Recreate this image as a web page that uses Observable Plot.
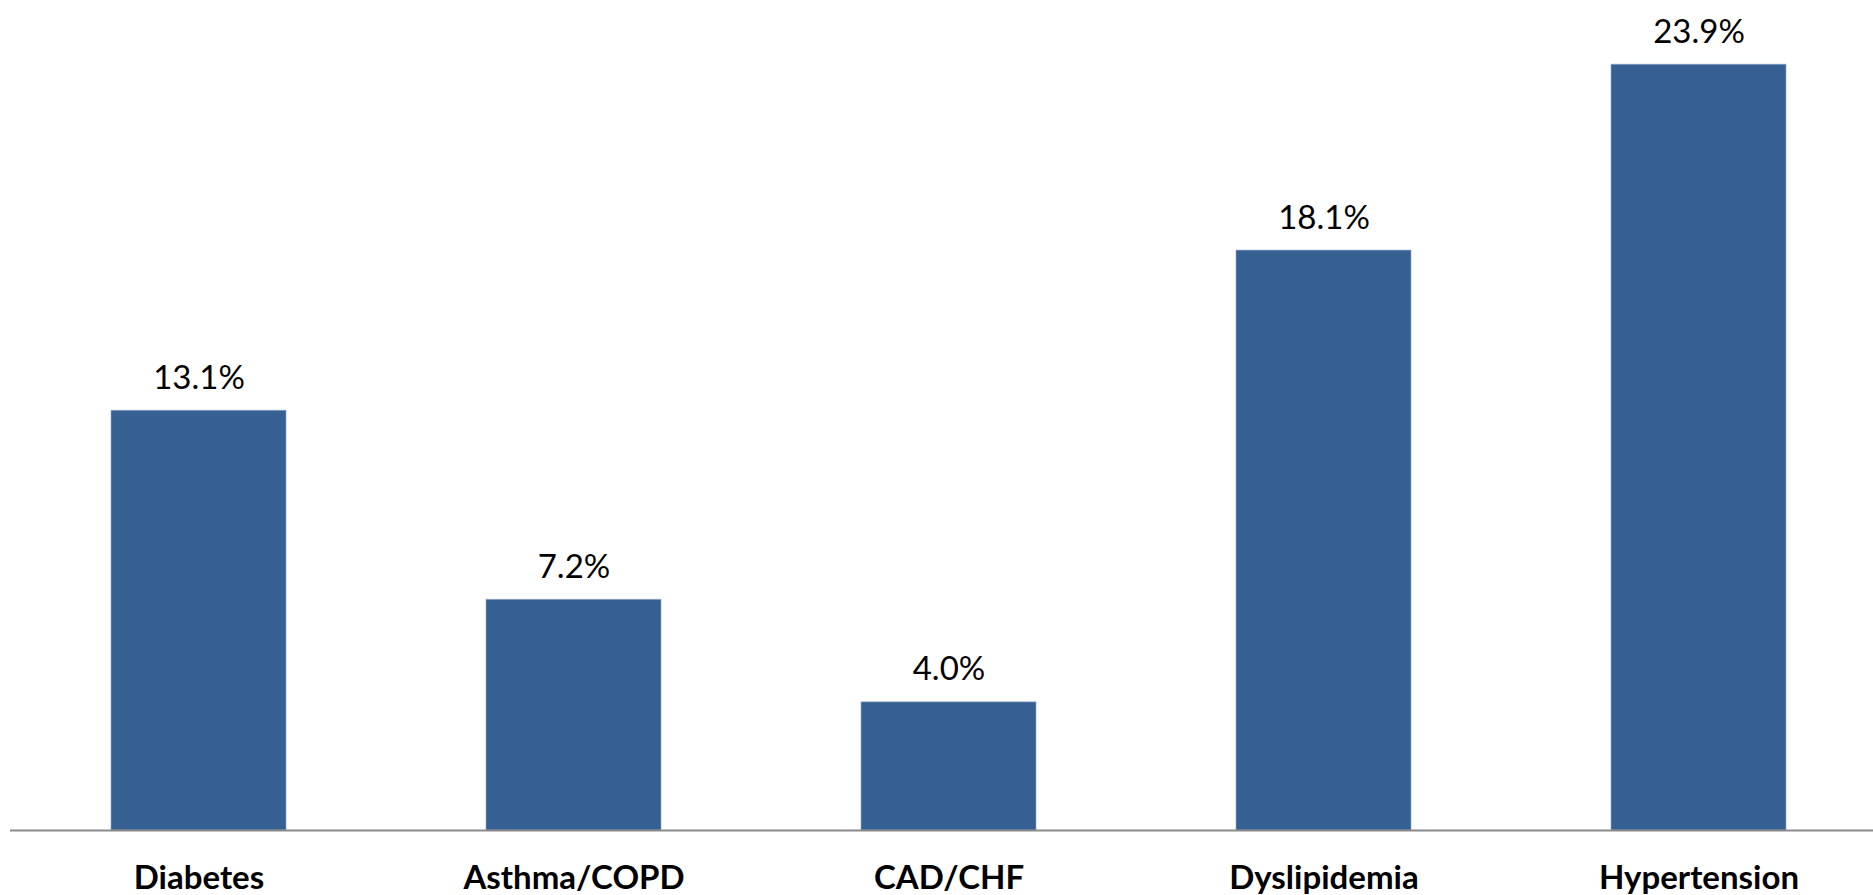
<!DOCTYPE html>
<html>
<head>
<meta charset="utf-8">
<script src="https://cdn.jsdelivr.net/npm/d3@7"></script>
<script src="https://cdn.jsdelivr.net/npm/@observablehq/plot@0.6"></script>
<style>
  html, body { margin: 0; padding: 0; background: #fff; }
  #chart svg { display: block; }
</style>
</head>
<body>
<div id="chart"></div>
<script>
const categories = ["Diabetes", "Asthma/COPD", "CAD/CHF", "Dyslipidemia", "Hypertension"];
const values = [13.1, 7.2, 4.0, 18.1, 23.9];
const valueLabels = ["13.1%", "7.2%", "4.0%", "18.1%", "23.9%"];

const data = categories.map((c, i) => ({category: c, value: values[i], label: valueLabels[i]}));

const W = 1873, H = 895;
const chart = Plot.plot({
  width: W,
  height: H,
  marginLeft: 10,
  marginRight: 0,
  marginTop: 29,
  marginBottom: 65,
  style: {fontFamily: "Lato, 'Liberation Sans', sans-serif", background: "#fff"},
  x: {domain: categories, range: [9.75, 1887.25], paddingInner: 0.534, paddingOuter: 0.267, label: null},
  y: {domain: [0, 25], axis: null},
  marks: [
    Plot.barY(data, {x: "category", y: "value", fill: "#376092", stroke: "#8ea9cc", strokeWidth: 1, strokeOpacity: 0.6}),
    Plot.ruleY([0], {stroke: "#8a8a8a", strokeWidth: 2}),
    Plot.text(data, {x: "category", y: "value", text: "label", lineAnchor: "bottom", dy: -22, fontSize: 33, fill: "#000"}),
    Plot.axisX({tickSize: 0, tickPadding: 35, fontSize: 33, fontWeight: "bold", fill: "#000", label: null, lineAnchor: "top"})
  ]
});
document.getElementById("chart").appendChild(chart);
</script>
</body>
</html>
